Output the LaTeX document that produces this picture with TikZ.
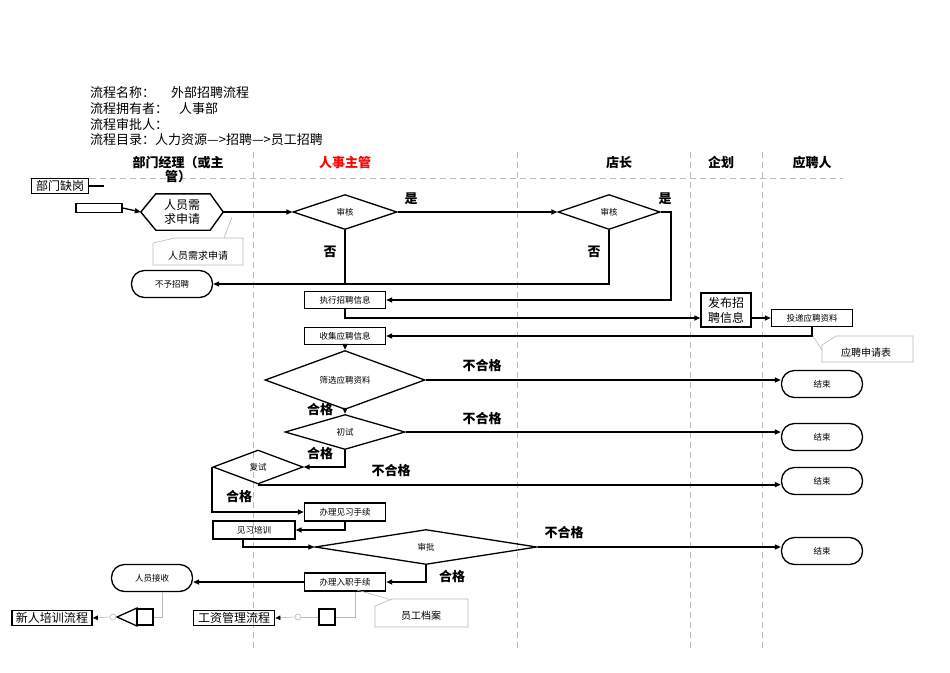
\documentclass[tikz,border=0pt]{standalone}
\usepackage{fontspec}
\setmainfont{Noto Sans CJK SC}
\usetikzlibrary{arrows.meta,shapes.geometric}
\begin{document}
\begin{tikzpicture}[x=1pt,y=-1pt,
  box/.style={draw, line width=1.4pt, inner sep=0pt, minimum width=81pt, minimum height=17pt, font=\fontsize{8.5}{9}\selectfont},
  tbox/.style={draw, line width=1.7pt, inner sep=0pt, minimum height=15pt, font=\fontsize{12}{12}\selectfont},
  term/.style={draw, line width=1.3pt, rounded corners=13pt, minimum width=81pt, minimum height=27pt, inner sep=0pt, font=\fontsize{8.5}{9}\selectfont},
  dia/.style={draw, diamond, line width=1.3pt, inner sep=0pt, font=\fontsize{8.5}{9}\selectfont},
  conn/.style={line width=2.1pt, -{Triangle[length=6pt,width=5pt]}},
  plain/.style={line width=2.1pt},
  gline/.style={draw=gray!55, line width=0.6pt},
  garrow/.style={draw=gray!55, line width=0.6pt, -{Triangle[length=5pt,width=4.5pt,fill=black,color=black]}},
  lane/.style={draw=gray!55, line width=0.6pt, dash pattern=on 6pt off 4pt},
  lbl/.style={font=\fontsize{13}{13}\selectfont\bfseries, inner sep=0pt},
  hdr/.style={font=\fontsize{13}{14}\selectfont, anchor=west, inner sep=0pt},
  lanehdr/.style={font=\fontsize{13}{14}\selectfont\bfseries, inner sep=0pt, align=center},
  note/.style={font=\fontsize{10}{10}\selectfont, inner sep=0pt},
]
\useasboundingbox (0,0) rectangle (950,672);

% header
\node[hdr] (h1) at (90,93) {流程名称：\hspace{16pt}外部招聘流程};
\node[hdr] (h2) at (90,109) {流程拥有者：\hspace{11pt}人事部};
\node[hdr] (h3) at (90,124) {流程审批人：};
\node[hdr] (h4) at (90,140) {流程目录：人力资源—>招聘—>员工招聘};

% lanes
\coordinate (hl1) at (30,178); \coordinate (hl2) at (843,178);
\draw[lane] (hl1) -- (hl2);
\foreach \x/\n in {253/a,517/b,690/c,762/d}{
  \coordinate (lt\n) at (\x,152); \coordinate (lb\n) at (\x,650);
  \draw[lane] (lt\n) -- (lb\n);
}
\node[lanehdr] (L1) at (178,170) {部门经理（或主\\管）};
\node[lanehdr, text=red] (L2) at (345,163) {人事主管};
\node[lanehdr] (L3) at (619,163) {店长};
\node[lanehdr] (L4) at (721,163) {企划};
\node[lanehdr] (L5) at (812,163) {应聘人};

% department manager lane
\node[tbox, minimum width=57pt] (que) at (60,186) {部门缺岗};
\coordinate (queend) at (104,186);
\draw[line width=1.5pt] (que.east) -- (queend);
\node[draw, line width=1.3pt, minimum width=46pt, minimum height=9pt, inner sep=0pt] (blank) at (99,208) {};
\node[minimum width=82pt, minimum height=36pt, inner sep=0pt, align=center, font=\fontsize{12}{14}\selectfont] (hex) at (182,212) {人员需\\求申请};
\draw[line width=1.4pt] (hex.west) -- ([xshift=15pt]hex.north west) -- ([xshift=-13pt]hex.north east) -- (hex.east) -- ([xshift=-13pt]hex.south east) -- ([xshift=15pt]hex.south west) -- cycle;
\draw[conn, line width=1.3pt] (blank.east) -- (hex.west);

% note 1
\node[note] (note1) at (198,256) {人员需求申请};
\draw[gline] (153,265) -- (153,243) -- (175,238) -- (243,238) -- (243,265) -- cycle;
\draw[gline] (232,217) -- (224,238);

% decisions
\node[dia, minimum width=104pt, minimum height=35pt] (d1) at (345,212) {审核};
\node[dia, minimum width=102pt, minimum height=35pt] (d2) at (609,212) {审核};
\draw[conn] (hex.east) -- (d1.west);
\draw[conn] (d1.east) -- (d2.west);
\node[lbl] (yes1) at (411,199) {是};
\node[lbl] (yes2) at (665,199) {是};
\node[lbl] (no1) at (330,252) {否};
\node[lbl] (no2) at (594,252) {否};

\node[term] (reject) at (172,284) {不予招聘};
\draw[conn] (d2.south) |- (reject.east);
\draw[plain] (d1.south) -- (d1.south |- reject.east);

\node[box] (exec) at (345,300) {执行招聘信息};
\draw[conn] (d2.east) -- ++(10,0) |- (exec.east);

\node[draw, line width=1.4pt, minimum width=50pt, minimum height=34pt, inner sep=0pt, align=center, font=\fontsize{12}{15}\selectfont] (publish) at (726,310) {发布招\\聘信息};
\node[box] (submit) at (812,318) {投递应聘资料};
\draw[conn] (exec.south) |- (publish.west |- submit.west);
\draw[conn] (publish.east |- submit.west) -- (submit.west);

\node[box] (collect) at (345,336) {收集应聘信息};
\draw[conn] (submit.south) |- (collect.east);

% note 2
\node[note] (note2) at (866,353) {应聘申请表};
\draw[gline] (822,362) -- (822,345) -- (836,336) -- (913,336) -- (913,362) -- cycle;
\draw[gline] (813,336) -- (822,350);

% screening chain
\node[dia, minimum width=160pt, minimum height=35pt] (screen) at (345,380) {筛选应聘资料};
\draw[conn] (collect.south) -- (screen.north);
\node[term] (end1) at (822,384) {结束};
\draw[conn] (screen.east) -- (screen.east -| end1.west);
\node[lbl] (bhg1) at (482,366) {不合格};
\node[lbl] (hg1) at (320,410) {合格};

\node[dia, minimum width=120pt, minimum height=35pt] (first) at (345,432) {初试};
\draw[conn] (screen.south) -- (first.north);
\node[term] (end2) at (822,437) {结束};
\draw[conn] (first.east) -- (first.east -| end2.west);
\node[lbl] (bhg2) at (482,419) {不合格};
\node[lbl] (hg2) at (320,454) {合格};

\node[dia, minimum width=90pt, minimum height=34pt] (retest) at (258,467) {复试};
\draw[conn] (first.south) |- (retest.east);
\node[term] (end3) at (822,481) {结束};
\draw[conn] (retest.south) -- (retest.south -| end3.west);
\node[lbl] (bhg3) at (391,471) {不合格};
\node[lbl] (hg3) at (239,497) {合格};

\node[box, minimum height=18pt] (trainee) at (345,512) {办理见习手续};
\draw[conn] (retest.west) |- (trainee.west);
\node[box, minimum width=82pt, minimum height=18pt] (train) at (254,530) {见习培训};
\draw[conn] (trainee.south) |- (train.east);

\node[dia, minimum width=222pt, minimum height=35pt] (approve) at (426,547) {审批};
\draw[conn] ([xshift=-11pt]train.south) |- (approve.west);
\node[term] (end4) at (822,551) {结束};
\draw[conn] (approve.east) -- (approve.east -| end4.west);
\node[lbl] (bhg4) at (564,533) {不合格};
\node[lbl] (hg4) at (452,577) {合格};

\node[box, minimum height=18pt] (onboard) at (345,582) {办理入职手续};
\draw[conn] (approve.south) |- (onboard.east);
\node[term] (receive) at (152,578) {人员接收};
\draw[conn] (onboard.west) -- (onboard.west -| receive.east);

% note 3
\node[note] (note3) at (421,616) {员工档案};
\draw[gline] (375,627) -- (375,606) -- (392,599) -- (468,599) -- (468,627) -- cycle;
\draw[gline] (357,590) -- (392,600);

% bottom links
\node[draw, line width=1.2pt, minimum width=16pt, minimum height=16pt, inner sep=0pt] (sq1) at (145,617) {};
\coordinate (tritip) at (117,617);
\draw[line width=1.3pt] (tritip) -- (137,608) -- (137,626) -- cycle;
\node[draw=gray!55, circle, minimum size=6pt, inner sep=0pt, line width=0.6pt] (c1) at (113,617) {};
\node[tbox, minimum width=80pt] (newtrain) at (52,618) {新人培训流程};
\draw[gline] ([xshift=10pt]receive.south) |- (sq1.east);
\draw[garrow] (c1.west) -- (newtrain.east);

\node[draw, line width=1.2pt, minimum width=16pt, minimum height=16pt, inner sep=0pt] (sq2) at (327,617) {};
\node[draw=gray!55, circle, minimum size=6pt, inner sep=0pt, line width=0.6pt] (c2) at (298,617) {};
\node[tbox, minimum width=81pt] (salary) at (234,618) {工资管理流程};
\draw[gline] ([xshift=10pt]onboard.south) |- (sq2.east);
\draw[gline] (sq2.west) -- (c2.east);
\draw[garrow] (c2.west) -- (salary.east);
\end{tikzpicture}
\end{document}
